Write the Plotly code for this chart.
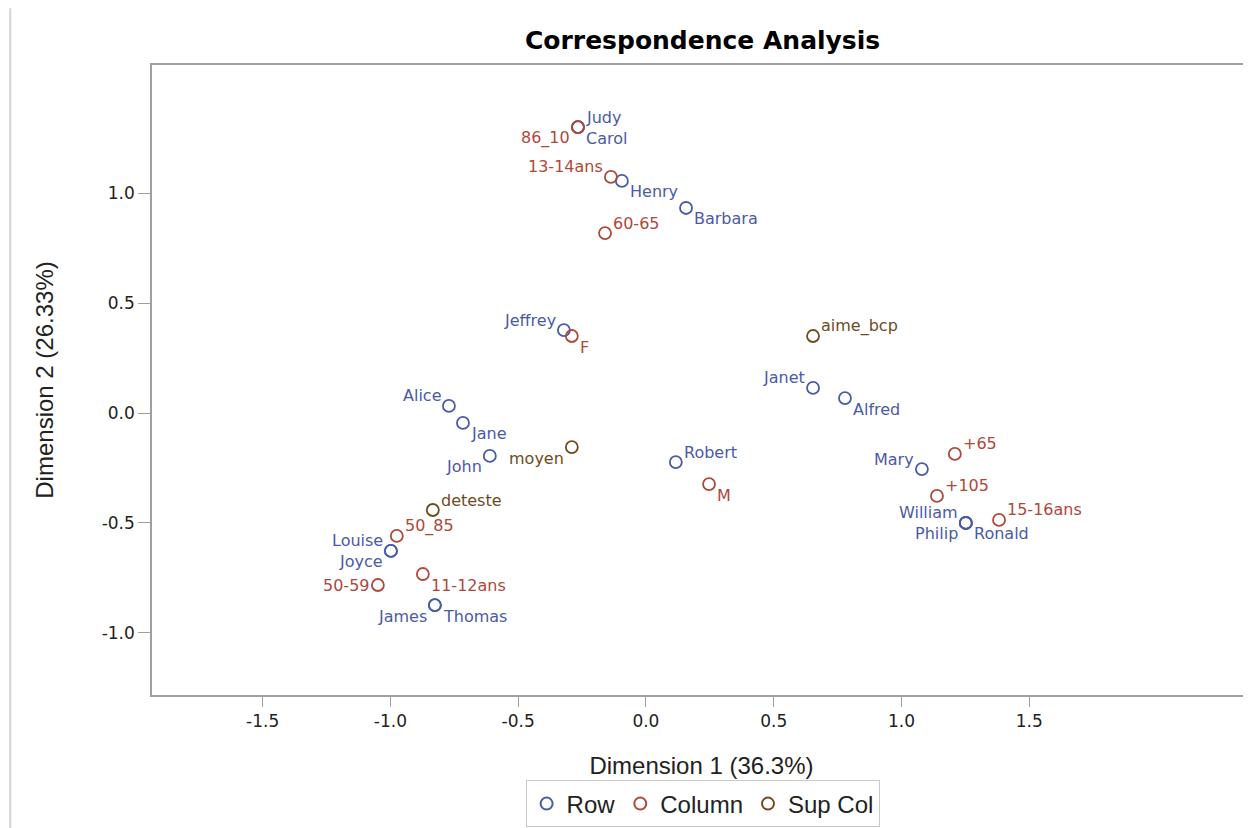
import plotly.graph_objects as go

# ---- data ----
row_names = ["Judy", "Carol", "Henry", "Barbara", "Jeffrey", "Janet", "Alfred", "Alice",
             "Jane", "John", "Robert", "Mary", "William", "Philip", "Ronald", "Louise",
             "Joyce", "James", "Thomas"]
row_x = [-0.266, -0.266, -0.094, 0.157, -0.321, 0.654, 0.779, -0.771,
         -0.716, -0.611, 0.117, 1.080, 1.252, 1.252, 1.252, -0.998,
         -0.998, -0.826, -0.826]
row_y = [1.300, 1.300, 1.055, 0.932, 0.377, 0.114, 0.068, 0.032,
         -0.045, -0.195, -0.223, -0.255, -0.500, -0.500, -0.500, -0.627,
         -0.627, -0.873, -0.873]

col_names = ["86_10", "13-14ans", "60-65", "F", "M", "+65", "+105", "15-16ans",
             "50_85", "50-59", "11-12ans"]
col_x = [-0.266, -0.137, -0.160, -0.290, 0.247, 1.209, 1.139, 1.382,
         -0.975, -1.049, -0.873]
col_y = [1.300, 1.073, 0.818, 0.350, -0.323, -0.186, -0.377, -0.486,
         -0.559, -0.782, -0.732]

sup_names = ["aime_bcp", "moyen", "deteste"]
sup_x = [0.654, -0.290, -0.834]
sup_y = [0.350, -0.155, -0.441]

# ---- label placement (style) ----
row_pos = ["top right", "bottom right", "bottom right", "bottom right", "top left",
           "top left", "bottom right", "top left", "bottom right", "bottom left",
           "top right", "top left", "top left", "bottom left", "bottom right",
           "top left", "bottom left", "bottom left", "bottom right"]
col_pos = ["bottom left", "top left", "top right", "bottom right", "bottom right",
           "top right", "top right", "top right", "top right", "middle left",
           "bottom right"]
sup_pos = ["top right", "bottom left", "top right"]

BLUE = "#4A5AA8"
RED = "#B0483A"
BROWN = "#6E4B1F"
lab_font = "DejaVu Sans"

fig = go.Figure()
annotations = []
for name, xs, ys, labels, pos, col in [
    ("Row", row_x, row_y, row_names, row_pos, BLUE),
    ("Column", col_x, col_y, col_names, col_pos, RED),
    ("Sup Col", sup_x, sup_y, sup_names, sup_pos, BROWN),
]:
    fig.add_trace(go.Scatter(
        x=xs, y=ys, mode="markers", name=name, text=labels,
        hovertemplate="%{text}<br>(%{x}, %{y})<extra></extra>",
        marker=dict(symbol="circle-open", size=12, color=col, line=dict(width=1.8, color=col)),
    ))
    for x, y, lab, p in zip(xs, ys, labels, pos):
        vert, horiz = p.split()
        annotations.append(dict(
            x=x, y=y, xref="x", yref="y", text=lab, showarrow=False,
            xanchor="left" if horiz == "right" else "right",
            yanchor="middle",
            xshift=7 if horiz == "right" else -7,
            yshift={"top": 10, "bottom": -11, "middle": 0}[vert],
            borderpad=0,
            font=dict(family=lab_font, size=16, color=col),
        ))

fig.update_layout(
    width=1243, height=820,
    margin=dict(l=144, r=0, t=57, b=133, autoexpand=False),
    paper_bgcolor="white", plot_bgcolor="white",
    annotations=annotations,
    title=dict(text="<b>Correspondence Analysis</b>", xref="paper", x=0.501, xanchor="center",
               yref="container", y=0.961, yanchor="middle",
               font=dict(family="DejaVu Sans", size=25, color="black")),
    showlegend=True,
    legend=dict(orientation="h", x=0.501, xanchor="center", y=-0.173, yanchor="middle",
                bordercolor="#c8c8c8", borderwidth=1,
                font=dict(family="Liberation Sans", size=24, color="#222222"),
                itemsizing="constant"),
    font=dict(family="Liberation Sans"),
)
fig.update_xaxes(
    range=[-1.933, 2.368], tickvals=[-1.5, -1.0, -0.5, 0.0, 0.5, 1.0, 1.5],
    ticktext=["-1.5", "-1.0", "-0.5", "0.0", "0.5", "1.0", "1.5"],
    showgrid=False, zeroline=False, showline=True, mirror=True, linecolor="#a0a0a0", linewidth=1.5,
    ticks="outside", ticklen=10, tickcolor="#a0a0a0", automargin=False,
    tickfont=dict(family="DejaVu Sans", size=17, color="#222222"),
    title=dict(text="Dimension 1 (36.3%)", font=dict(family="Liberation Sans", size=24, color="#222222"),
               standoff=27),
)
fig.update_yaxes(
    range=[-1.282, 1.582], tickvals=[-1.0, -0.5, 0.0, 0.5, 1.0],
    ticktext=["-1.0", "-0.5", "0.0", "0.5", "1.0"],
    showgrid=False, zeroline=False, showline=True, mirror=False, linecolor="#a0a0a0", linewidth=1.5,
    ticks="outside", ticklen=12, tickcolor="#a0a0a0", automargin=False,
    tickfont=dict(family="DejaVu Sans", size=17, color="#222222"),
    title=dict(text="Dimension 2 (26.33%)", font=dict(family="Liberation Sans", size=24, color="#222222"),
               standoff=41),
)
# left page edge line
fig.add_shape(type="line", xref="paper", yref="paper", x0=-0.129, x1=-0.129, y0=1.09, y1=-0.211,
              line=dict(color="#d4d4d4", width=2), layer="above")
fig.write_html("out.html")
